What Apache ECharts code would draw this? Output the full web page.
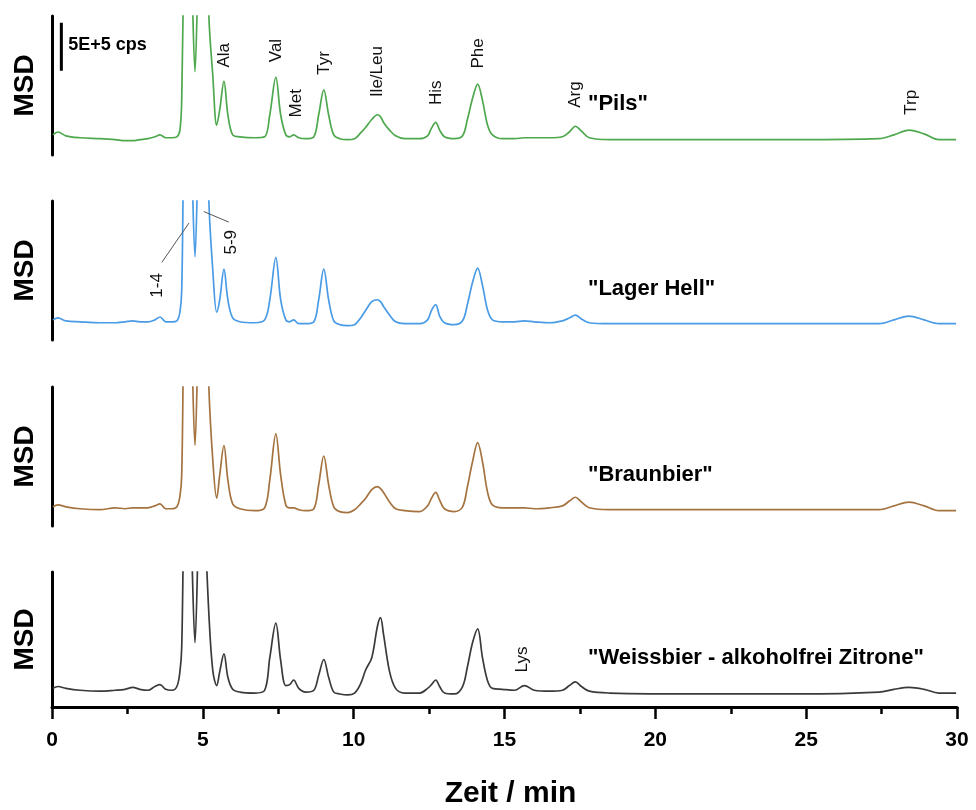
<!DOCTYPE html>
<html>
<head>
<meta charset="utf-8">
<script src="https://cdn.jsdelivr.net/npm/echarts@6/dist/echarts.min.js"></script>
<style>
  html, body { margin: 0; padding: 0; background: #fff; }
  #chart { width: 976px; height: 810px; }
</style>
</head>
<body>
<div id="chart"></div>
<script>
// Retention time grid (min), shared by all four chromatograms
const time = [
  0.03, 0.20, 0.46, 0.93, 1.59, 2.09, 2.42, 2.68, 2.91, 3.18,
  3.41, 3.58, 3.77, 3.97, 4.14, 4.24, 4.30, 4.37, 4.50, 4.64,
  4.74, 4.83, 4.93, 5.07, 5.20, 5.33, 5.46, 5.56, 5.70, 5.83,
  5.99, 6.23, 6.72, 7.05, 7.22, 7.42, 7.58, 7.75, 7.88, 8.01,
  8.18, 8.41, 8.68, 8.84, 9.01, 9.17, 9.34, 9.54, 9.80, 10.03,
  10.23, 10.40, 10.60, 10.79, 10.89, 10.99, 11.19, 11.39, 11.69, 12.19,
  12.45, 12.58, 12.72, 12.85, 13.01, 13.34, 13.61, 13.77, 13.94, 14.11,
  14.27, 14.44, 14.60, 14.93, 15.33, 15.66, 15.99, 16.49, 16.92, 17.15,
  17.35, 17.55, 17.81, 18.48, 21.46, 24.77, 27.42, 27.91, 28.41, 28.91,
  29.40, 29.97
];

// MSD signal in units of 1E+4 cps (peaks 1-9 run far off scale)
const pils = [
  21, 24, 20, 18, 17, 16, 15, 15, 16, 17,
  19, 21, 18, 18, 19, 26, 57, 200, 330, 180,
  87, 180, 330, 330, 145, 83, 31, 47, 77, 42,
  21, 19, 18, 19, 42, 81, 42, 21, 19, 21,
  18, 17, 19, 42, 68, 42, 21, 17, 16, 17,
  23, 29, 37, 42, 40, 34, 26, 20, 17, 17,
  20, 28, 34, 26, 19, 17, 20, 37, 59, 74,
  57, 31, 21, 17, 17, 18, 18, 18, 19, 24,
  30, 25, 18, 16, 16, 16, 17, 21, 26, 22,
  16, 16
];
const lagerHell = [
  21, 23, 20, 19, 18, 18, 19, 20, 19, 19,
  21, 24, 19, 19, 20, 29, 52, 200, 330, 180,
  87, 180, 330, 330, 145, 73, 29, 42, 74, 42,
  23, 19, 18, 21, 42, 86, 42, 21, 19, 21,
  17, 17, 19, 42, 74, 42, 20, 16, 15, 16,
  23, 31, 40, 42, 40, 35, 26, 19, 17, 17,
  21, 31, 37, 25, 18, 16, 20, 37, 60, 75,
  57, 31, 21, 19, 19, 20, 19, 18, 20, 23,
  26, 22, 18, 17, 17, 17, 17, 21, 25, 21,
  17, 17
];
const braunbier = [
  20, 22, 20, 18, 17, 19, 18, 19, 19, 19,
  21, 23, 18, 18, 20, 31, 53, 200, 330, 180,
  84, 180, 330, 330, 145, 69, 29, 53, 84, 48,
  23, 18, 16, 19, 48, 96, 53, 22, 19, 19,
  17, 16, 18, 43, 73, 43, 20, 15, 14, 17,
  23, 29, 38, 41, 39, 35, 25, 18, 16, 15,
  21, 29, 35, 27, 18, 15, 20, 41, 67, 87,
  67, 35, 22, 19, 19, 19, 18, 19, 21, 26,
  30, 25, 19, 17, 17, 17, 17, 21, 25, 21,
  16, 16
];
const weissbier = [
  20, 22, 20, 18, 17, 18, 19, 21, 19, 18,
  22, 24, 19, 18, 22, 38, 64, 200, 330, 160,
  69, 160, 330, 200, 100, 39, 23, 38, 57, 32,
  19, 16, 15, 18, 53, 90, 50, 23, 24, 29,
  20, 16, 18, 34, 51, 32, 16, 14, 13, 15,
  25, 40, 53, 87, 96, 78, 38, 20, 15, 15,
  20, 24, 29, 22, 15, 14, 22, 43, 69, 84,
  53, 28, 20, 19, 18, 23, 18, 17, 18, 23,
  27, 22, 17, 15, 14, 14, 16, 19, 21, 19,
  15, 15
];

const sampleNames = ['"Pils"', '"Lager Hell"', '"Braunbier"', '"Weissbier - alkoholfrei Zitrone"'];
const detectorName = 'MSD';
const xAxisTitle = 'Zeit / min';
const xTickValues = [0, 5, 10, 15, 20, 25, 30];

// Peak assignments: [name, retention time, label height]
const pilsPeaks = [
  ['Ala', 5.70, 104], ['Val', 7.42, 109], ['Met', 8.11, 54], ['Tyr', 9.04, 96],
  ['Ile/Leu', 10.79, 87], ['His', 12.75, 65], ['Phe', 14.14, 106],
  ['Arg', 17.35, 63], ['Trp', 28.50, 55]
];
const lagerPeaks = [['1-4', 3.48, 57], ['5-9', 5.93, 102]];
const weissPeaks = [['Lys', 15.59, 51]];
// Leader lines from the group labels to the off-scale peaks
const leaderLines = [
  [[3.64, 81], [4.54, 122]],
  [[5.03, 134], [5.86, 123]]
];
// Intensity scale bar: 50 x 1E+4 cps = 5E+5 cps
const scaleBar = [[0.31, 88], [0.31, 138]];
const scaleBarText = '5E+5 cps';
const sampleLabelAt = [17.75, 53];

const FONT = "'Liberation Sans', Arial, Helvetica, sans-serif";
const traces = [pils, lagerHell, braunbier, weissbier];
const colors = ['#4ea84e', '#4a9be6', '#a5733f', '#3a3a3a'];
const panelTops = [16, 201, 387, 572];
const panelHeight = 139;

const grid = panelTops.map(t => ({ left: 52, right: 19, top: t, height: panelHeight }));

const xAxis = panelTops.map((_, i) => ({
  gridIndex: i,
  type: 'value',
  min: 0,
  max: 30,
  interval: 5,
  show: i === 3,
  axisLine: { show: true, onZero: false, lineStyle: { color: '#000', width: 3 } },
  axisTick: { show: true, length: 12, lineStyle: { color: '#000', width: 2.5 } },
  minorTick: { show: true, splitNumber: 2, length: 7, lineStyle: { color: '#000', width: 2.5 } },
  splitLine: { show: false },
  minorSplitLine: { show: false },
  axisLabel: {
    show: true, margin: 23, color: '#000', fontSize: 21, fontWeight: 'bold', fontFamily: FONT,
    formatter: v => (xTickValues.indexOf(v) >= 0 ? String(v) : '')
  },
  name: i === 3 ? xAxisTitle : '',
  nameLocation: 'middle',
  nameGap: 72,
  nameTextStyle: { color: '#000', fontSize: 30, fontWeight: 'bold', fontFamily: FONT, padding: [0, 0, 0, 12] }
}));

const yAxis = panelTops.map((_, i) => ({
  gridIndex: i,
  type: 'value',
  min: 0,
  max: 145,
  axisLine: { show: true, onZero: false, lineStyle: { color: '#000', width: 3 } },
  axisTick: { show: false },
  axisLabel: { show: false },
  splitLine: { show: false },
  name: detectorName,
  nameLocation: 'middle',
  nameGap: 13,
  nameTextStyle: { color: '#000', fontSize: 28, fontWeight: 'bold', fontFamily: FONT }
}));

const series = [];

// Chromatogram traces
traces.forEach((arr, i) => {
  series.push({
    type: 'line',
    xAxisIndex: i,
    yAxisIndex: i,
    data: time.map((t, k) => [t, arr[k]]),
    showSymbol: false,
    smooth: 0.35,
    clip: true,
    silent: true,
    lineStyle: { color: colors[i], width: 1.7 }
  });
});

// Shared text style for labels anchored on the data grid
function textLabel(extra) {
  return Object.assign({
    show: true, formatter: '{b}', color: '#000', opacity: 1,
    textBorderWidth: 0, textShadowBlur: 0, fontFamily: FONT
  }, extra);
}

// Rotated peak labels
function peakLabelSeries(peaks, idx) {
  return {
    type: 'scatter',
    xAxisIndex: idx,
    yAxisIndex: idx,
    symbolSize: 1,
    silent: true,
    itemStyle: { color: '#fff', opacity: 0 },
    data: peaks.map(p => ({ name: p[0], value: [p[1], p[2]] })),
    label: textLabel({ position: 'inside', rotate: 90, fontSize: 17, color: '#111' })
  };
}
series.push(peakLabelSeries(pilsPeaks, 0));
series.push(peakLabelSeries(lagerPeaks, 1));
series.push(peakLabelSeries(weissPeaks, 3));

// Leader lines for the "1-4" / "5-9" groups
leaderLines.forEach(seg => {
  series.push({
    type: 'line', xAxisIndex: 1, yAxisIndex: 1, data: seg, showSymbol: false, silent: true,
    lineStyle: { color: '#555', width: 1 }
  });
});

// Sample names
sampleNames.forEach((n, i) => {
  series.push({
    type: 'scatter', xAxisIndex: i, yAxisIndex: i, symbolSize: 1, silent: true,
    itemStyle: { color: '#fff', opacity: 0 },
    data: [{ name: n, value: sampleLabelAt }],
    label: textLabel({ position: 'right', distance: 0, fontSize: 22, fontWeight: 'bold' })
  });
});

// Intensity scale bar and its caption
series.push({
  type: 'line', xAxisIndex: 0, yAxisIndex: 0, data: scaleBar, showSymbol: false, silent: true,
  lineStyle: { color: '#000', width: 3 }
});
series.push({
  type: 'scatter', xAxisIndex: 0, yAxisIndex: 0, symbolSize: 1, silent: true,
  itemStyle: { color: '#fff', opacity: 0 },
  data: [{ name: scaleBarText, value: [0.52, 115] }],
  label: textLabel({ position: 'right', distance: 0, fontSize: 18, fontWeight: 'bold' })
});

const chart = echarts.init(document.getElementById('chart'), null, { renderer: 'canvas' });
chart.setOption({
  backgroundColor: '#fff',
  animation: false,
  grid,
  xAxis,
  yAxis,
  series
});
</script>
</body>
</html>
